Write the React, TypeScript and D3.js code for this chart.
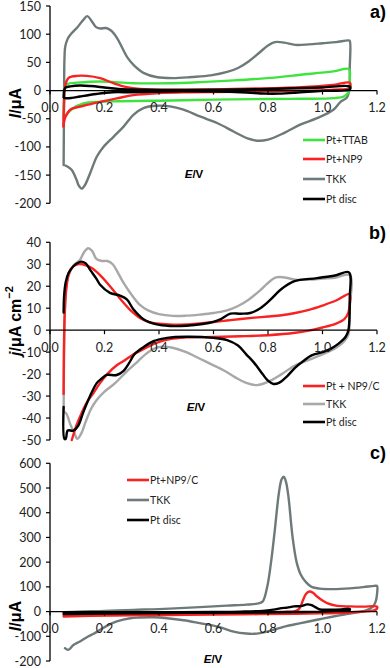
import React from "react";
import * as d3 from "d3";

type Pt = [number, number];

// ---------- Panel a data (I / µA vs E / V) ----------
const aTKK: Pt[] = [
  [0.05, -132], [0.051, -60], [0.052, 20], [0.053, 55], [0.056, 78], [0.065, 92], [0.08, 102], [0.1, 112],
  [0.12, 124], [0.137, 132], [0.152, 124], [0.168, 113], [0.185, 110], [0.205, 111], [0.225, 106],
  [0.245, 94], [0.265, 76], [0.285, 58], [0.31, 44], [0.345, 31], [0.39, 24], [0.45, 22], [0.52, 24],
  [0.59, 27], [0.65, 33], [0.69, 40], [0.73, 52], [0.77, 68], [0.8, 80], [0.825, 86], [0.86, 85],
  [0.9, 81], [0.95, 82], [1.0, 84], [1.05, 86], [1.095, 89], [1.1, 88], [1.1, 40], [1.099, 5],
  [1.09, -12], [1.066, -20], [1.04, -34], [0.98, -49], [0.92, -60], [0.86, -75], [0.8, -87],
  [0.76, -89], [0.725, -85], [0.675, -73], [0.615, -58], [0.55, -46], [0.49, -34], [0.44, -28],
  [0.392, -27], [0.343, -31], [0.306, -43], [0.27, -64], [0.233, -82], [0.196, -100], [0.172, -117],
  [0.147, -147], [0.128, -168], [0.116, -174], [0.105, -168], [0.098, -159], [0.08, -141],
  [0.065, -135], [0.05, -132]
];
const aTTAB: Pt[] = [
  [0.05, -49], [0.052, -10], [0.055, 8], [0.065, 12], [0.1, 14], [0.184, 16], [0.306, 13],
  [0.43, 13], [0.55, 15], [0.674, 18], [0.797, 22], [0.92, 28], [1.04, 34], [1.097, 38],
  [1.1, 20], [1.099, 0], [1.08, -10], [1.04, -13.5], [0.92, -14.5], [0.8, -15], [0.6, -16],
  [0.4, -18], [0.25, -19], [0.184, -20], [0.123, -23], [0.08, -33], [0.062, -42], [0.05, -49]
];
const aNP9: Pt[] = [
  [0.049, -64], [0.051, -30], [0.054, 2], [0.06, 16], [0.07, 23], [0.098, 26], [0.135, 26],
  [0.184, 22], [0.233, 13], [0.282, 6], [0.33, 3], [0.43, 1.6], [0.674, 2.8], [0.92, 6],
  [1.04, 10], [1.1, 14], [1.1, 5], [1.04, 1.6], [0.8, -1.3], [0.5, -3], [0.4, -4.5],
  [0.306, -8], [0.245, -14], [0.184, -20], [0.123, -27], [0.074, -34], [0.055, -49], [0.049, -64]
];
const aPt: Pt[] = [
  [0.05, -12], [0.052, 0], [0.056, 5], [0.075, 7.5], [0.11, 9], [0.15, 8], [0.2, 5.5],
  [0.25, 3], [0.35, 1.5], [0.5, 1], [0.7, 1.8], [0.9, 4], [1.0, 5.5], [1.1, 7], [1.1, 2],
  [1.0, -0.5], [0.9, -4], [0.84, -5.5], [0.79, -5.5], [0.7, -3], [0.5, -1.5], [0.4, -2],
  [0.3, -3], [0.23, -3], [0.17, -6], [0.11, -10.5], [0.08, -13], [0.055, -13.5], [0.05, -12]
];

// ---------- Panel b data (j / µA cm-2 vs E / V) ----------
const bNP9C: Pt[] = [
  [0.05, -29], [0.051, -10], [0.054, 8], [0.06, 19], [0.07, 26], [0.085, 29], [0.1, 30],
  [0.12, 30], [0.15, 28.5], [0.18, 25.5], [0.21, 21.5], [0.24, 17], [0.27, 12.5], [0.3, 8.5],
  [0.33, 5.5], [0.36, 3.8], [0.4, 2.9], [0.45, 2.5], [0.5, 2.6], [0.55, 3.1], [0.6, 3.7],
  [0.65, 4.4], [0.7, 5.1], [0.75, 5.7], [0.8, 6.2], [0.85, 6.8], [0.9, 7.8], [0.95, 9.2],
  [1.0, 11.2], [1.05, 13.5], [1.1, 16.5], [1.1, 12], [1.095, 8], [1.08, 5], [1.05, 3],
  [1.0, 1.2], [0.95, -0.2], [0.9, -1.2], [0.8, -2.3], [0.7, -2.8], [0.6, -3.1], [0.5, -3.3],
  [0.44, -4], [0.39, -5.8], [0.345, -8.5], [0.3, -11.5], [0.27, -14], [0.245, -16],
  [0.21, -20], [0.184, -24], [0.16, -28.5], [0.135, -33], [0.115, -38], [0.098, -43], [0.08, -50]
];
const bTKK: Pt[] = [
  [0.05, -37], [0.051, -20], [0.053, 0], [0.056, 12], [0.062, 22], [0.075, 27], [0.09, 30],
  [0.11, 32], [0.125, 35.5], [0.14, 37.3], [0.155, 36], [0.17, 32.5], [0.19, 31.5], [0.21, 31.5],
  [0.23, 30], [0.25, 26], [0.27, 21.5], [0.3, 16], [0.33, 11.5], [0.36, 9], [0.4, 7.3],
  [0.45, 6.5], [0.5, 6.6], [0.55, 7.1], [0.6, 7.8], [0.65, 9], [0.69, 11], [0.73, 14], [0.77, 18],
  [0.8, 21.5], [0.83, 24], [0.86, 24], [0.9, 23], [0.95, 23], [1.0, 23.5], [1.05, 24],
  [1.1, 25], [1.1, 10], [1.095, -2], [1.08, -5], [1.05, -8], [1.0, -11], [0.95, -13.5],
  [0.9, -16], [0.85, -20], [0.8, -23.5], [0.76, -25], [0.72, -24], [0.68, -21.5], [0.64, -18.5],
  [0.6, -16], [0.55, -13], [0.5, -10], [0.45, -8], [0.41, -7.5], [0.38, -8.5], [0.35, -11],
  [0.32, -14.5], [0.28, -19], [0.24, -24], [0.2, -28], [0.17, -32], [0.15, -36], [0.13, -42],
  [0.115, -47], [0.1, -49.5], [0.09, -47], [0.075, -43], [0.06, -38], [0.05, -37]
];
const bPt: Pt[] = [
  [0.05, 8], [0.052, 16], [0.058, 22], [0.068, 26], [0.085, 29], [0.1, 30.5], [0.115, 31.2],
  [0.13, 30.5], [0.15, 27], [0.17, 23.5], [0.184, 20.7], [0.22, 17], [0.257, 15.7], [0.282, 14],
  [0.306, 9.5], [0.343, 5], [0.392, 2.6], [0.44, 1.9], [0.5, 2], [0.56, 2.8], [0.6, 3.8],
  [0.625, 4.9], [0.662, 7.5], [0.7, 7.5], [0.735, 7.8], [0.772, 10], [0.81, 14], [0.846, 18.4],
  [0.895, 22.2], [0.98, 23.7], [1.05, 25], [1.097, 26.3], [1.1, 15], [1.095, 0], [1.085, -3],
  [1.06, -6], [1.03, -8.5], [1.0, -10], [0.96, -11.5], [0.93, -14], [0.9, -17], [0.87, -21],
  [0.84, -24], [0.82, -24.5], [0.8, -23], [0.78, -20], [0.75, -15], [0.72, -11], [0.69, -7],
  [0.65, -4.5], [0.6, -3.5], [0.5, -3], [0.43, -3.5], [0.38, -5], [0.34, -8], [0.31, -11],
  [0.29, -15], [0.27, -18.5], [0.245, -20.4], [0.208, -20.4], [0.19, -22], [0.172, -24],
  [0.147, -30], [0.122, -37.4], [0.104, -43.4], [0.086, -45.7], [0.065, -45.7], [0.058, -49.5],
  [0.053, -49.5], [0.05, -35]
];

// ---------- Panel c data (I / µA vs E / V) ----------
const cNP9C: Pt[] = [
  [0.05, -18], [0.1, -14], [0.2, -10], [0.3, -8], [0.4, -6], [0.5, -5], [0.6, -4], [0.7, -3],
  [0.8, -2], [0.87, -1], [0.9, 2], [0.915, 12], [0.928, 45], [0.94, 72], [0.952, 81],
  [0.965, 76], [0.98, 61], [1.0, 45], [1.017, 34], [1.054, 23], [1.1, 21], [1.15, 20],
  [1.2, 20], [1.2, 12], [1.19, 5], [1.14, 0], [1.077, -5], [1.0, -7], [0.9, -9], [0.7, -11],
  [0.5, -13], [0.3, -15], [0.15, -17], [0.05, -20]
];
const cTKK: Pt[] = [
  [0.05, -3], [0.1, 0], [0.2, 3], [0.306, 7], [0.4, 10], [0.55, 18], [0.65, 24], [0.72, 28],
  [0.76, 32], [0.78, 40], [0.797, 100], [0.81, 190], [0.825, 330], [0.84, 480], [0.85, 535],
  [0.858, 546], [0.866, 525], [0.875, 465], [0.89, 303], [0.905, 200], [0.92, 150],
  [0.94, 118], [0.96, 100], [0.99, 93], [1.04, 91], [1.1, 94], [1.15, 99], [1.19, 104],
  [1.2, 104], [1.2, 70], [1.195, 40], [1.185, 20], [1.16, 5], [1.13, -3], [1.08, -12],
  [1.04, -20], [0.98, -33], [0.92, -47], [0.86, -61], [0.8, -80], [0.75, -90], [0.72, -89],
  [0.674, -81], [0.62, -62], [0.55, -47], [0.49, -35], [0.43, -27], [0.38, -23], [0.33, -24],
  [0.294, -27], [0.245, -40], [0.21, -57], [0.184, -74], [0.16, -90], [0.14, -101],
  [0.11, -121], [0.086, -135], [0.067, -155], [0.055, -148]
];
const cPt: Pt[] = [
  [0.05, -7], [0.2, -5], [0.4, -3], [0.6, -1.5], [0.7, 0], [0.78, 3], [0.82, 8], [0.85, 14],
  [0.87, 16], [0.895, 21], [0.92, 22], [0.944, 29], [0.96, 26], [0.975, 17], [0.99, 9],
  [1.03, 8], [1.07, 9], [1.1, 11], [1.1, 6], [1.05, 3], [1.0, 0], [0.9, -2], [0.7, -4],
  [0.5, -5], [0.3, -7], [0.05, -10]
];

const xTicks = [0, 0.2, 0.4, 0.6, 0.8, 1.0, 1.2];
const aYTicks = [-200, -150, -100, -50, 0, 50, 100, 150];
const bYTicks = [-50, -40, -30, -20, -10, 0, 10, 20, 30, 40];
const cYTicks = [-200, -100, 0, 100, 200, 300, 400, 500, 600];

const aLegend = ["Pt+TTAB", "Pt+NP9", "TKK", "Pt disc"];
const bLegend = ["Pt + NP9/C", "TKK", "Pt disc"];
const cLegend = ["Pt+NP9/C", "TKK", "Pt disc"];

const GREEN = "#3ee43e";
const RED = "#f82222";
const GREY = "#6e7a7a";
const LGREY = "#a8a8a8";
const BLACK = "#000000";

const TICK_FONT = "Lato, 'Liberation Sans', sans-serif";
const TITLE_FONT = "'Liberation Sans', Arial, sans-serif";

interface Series { data: Pt[]; color: string; }
interface PanelProps {
  yDomain: [number, number];
  yRange: [number, number];
  yTicks: number[];
  series: Series[];
  legend: { labels: string[]; colors: string[]; x: number; ys: number[] };
  letter: string;
  letterY: number;
  yTitle: React.ReactNode;
  yTitleY: number;
  yTitleSize: number;
  exPos: [number, number];
}

const x = d3.scaleLinear().domain([0, 1.2]).range([50, 377]);

function Panel(p: PanelProps) {
  const y = d3.scaleLinear().domain(p.yDomain).range(p.yRange);
  const line = d3
    .line<Pt>()
    .x((d) => x(d[0]))
    .y((d) => y(d[1]))
    .curve(d3.curveCatmullRom.alpha(0.5));
  const y0 = y(0);
  return (
    <g>
      {p.series.map((s, i) => (
        <path key={i} d={line(s.data) || ""} fill="none" stroke={s.color} strokeWidth={2.4}
          strokeLinejoin="round" strokeLinecap="round" />
      ))}
      {/* y axis */}
      <line x1={50} x2={50} y1={y(p.yDomain[0])} y2={y(p.yDomain[1])} stroke="#000" strokeWidth={1.3} />
      {p.yTicks.map((t) => (
        <g key={t}>
          <line x1={46} x2={50} y1={y(t)} y2={y(t)} stroke="#000" strokeWidth={1.2} />
          <text x={41} y={y(t)} textAnchor="end" dominantBaseline="central" fontFamily={TICK_FONT}
            fontSize={12.5} fill="#222">{t}</text>
        </g>
      ))}
      {/* x axis */}
      <line x1={x(0)} x2={x(1.2)} y1={y0} y2={y0} stroke="#000" strokeWidth={1.3} />
      {xTicks.map((t) => (
        <g key={t}>
          <line x1={x(t)} x2={x(t)} y1={y0} y2={y0 + 4} stroke="#000" strokeWidth={1.2} />
          <text x={x(t)} y={y0 + 17} textAnchor="middle" dominantBaseline="central" fontFamily={TICK_FONT}
            fontSize={12.5} fill="#222">{t.toFixed(1)}</text>
        </g>
      ))}
      {/* legend */}
      {p.legend.labels.map((l, i) => (
        <g key={l}>
          <line x1={p.legend.x} x2={p.legend.x + 22} y1={p.legend.ys[i]} y2={p.legend.ys[i]}
            stroke={p.legend.colors[i]} strokeWidth={2.6} />
          <text x={p.legend.x + 23} y={p.legend.ys[i]} dominantBaseline="central" fontFamily={TICK_FONT}
            fontSize={10.5} fill="#222">{l}</text>
        </g>
      ))}
      <text x={386} y={p.letterY} textAnchor="end" dominantBaseline="central" fontFamily={TITLE_FONT}
        fontWeight="bold" fontSize={18}>{p.letter}</text>
      <text transform={`translate(15,${p.yTitleY}) rotate(-90)`} textAnchor="middle" dominantBaseline="central"
        fontFamily={TITLE_FONT} fontWeight="bold" fontSize={p.yTitleSize}>{p.yTitle}</text>
      <text x={p.exPos[0]} y={p.exPos[1]} textAnchor="middle" dominantBaseline="central" fontFamily={TITLE_FONT}
        fontWeight="bold" fontSize={11.5}>
        <tspan fontStyle="italic">E</tspan>/V
      </text>
    </g>
  );
}

export default function App() {
  return (
    <svg width={390} height={668} style={{ position: "absolute", left: 0, top: 0, background: "#fff" }}>
      <rect width={390} height={668} fill="#fff" />
      <Panel
        yDomain={[-200, 150]} yRange={[203.3, 6]} yTicks={aYTicks}
        series={[{ data: aTKK, color: GREY }, { data: aTTAB, color: GREEN }, { data: aNP9, color: RED }, { data: aPt, color: BLACK }]}
        legend={{ labels: aLegend, colors: [GREEN, RED, GREY, BLACK], x: 303, ys: [140, 159, 179, 199] }}
        letter="a)" letterY={12}
        yTitle={<><tspan fontStyle="italic">I</tspan>/μA</>} yTitleY={103} yTitleSize={16}
        exPos={[194, 174]}
      />
      <Panel
        yDomain={[-50, 40]} yRange={[440, 242.3]} yTicks={bYTicks}
        series={[{ data: bTKK, color: LGREY }, { data: bNP9C, color: RED }, { data: bPt, color: BLACK }]}
        legend={{ labels: bLegend, colors: [RED, LGREY, BLACK], x: 303, ys: [386, 404, 422] }}
        letter="b)" letterY={233}
        yTitle={<><tspan fontStyle="italic">j</tspan>/μA cm<tspan baselineShift="super" fontSize={11}>−2</tspan></>}
        yTitleY={321} yTitleSize={16}
        exPos={[196, 407]}
      />
      <Panel
        yDomain={[-200, 600]} yRange={[661, 463.3]} yTicks={cYTicks}
        series={[{ data: cTKK, color: GREY }, { data: cNP9C, color: RED }, { data: cPt, color: BLACK }]}
        legend={{ labels: cLegend, colors: [RED, GREY, BLACK], x: 127, ys: [480, 500, 520] }}
        letter="c)" letterY={453}
        yTitle={<><tspan fontStyle="italic">I</tspan>/μA</>} yTitleY={616} yTitleSize={16}
        exPos={[213, 659]}
      />
    </svg>
  );
}
